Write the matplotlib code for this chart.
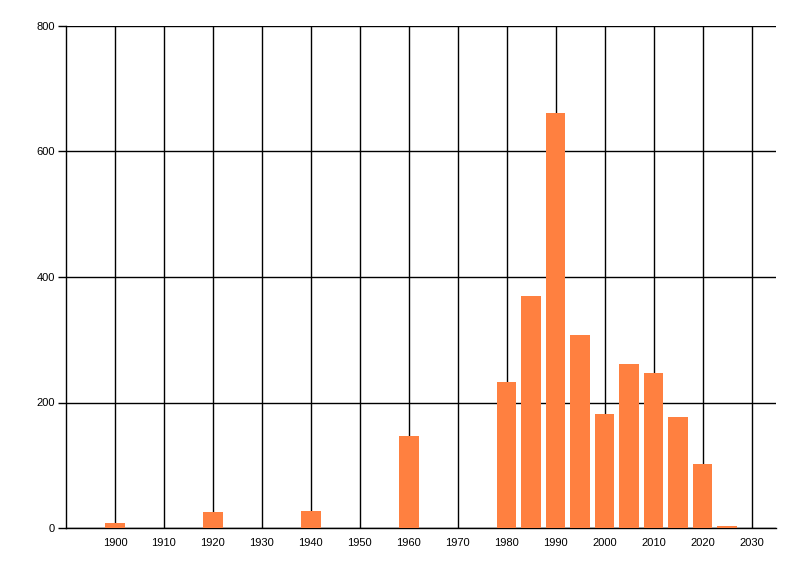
import matplotlib
matplotlib.use("Agg")
import matplotlib.pyplot as plt
import numpy as np

plt.rcParams['font.family'] = ['Liberation Sans', 'DejaVu Sans']

# Data
years = [1900, 1920, 1940, 1960, 1980, 1985, 1990, 1995, 2000, 2005, 2010, 2015, 2020, 2025]
counts = [8, 25, 27, 147, 233, 370, 661, 308, 182, 261, 247, 177, 102, 3]
x_ticks = list(range(1900, 2031, 10))
y_ticks = [0, 200, 400, 600, 800]

fig = plt.figure(figsize=(8, 5.76), dpi=100)
ax = fig.add_axes([66/800, 48/576, 710/800, 502/576])

ax.bar(years, counts, width=4, color='#FF8040', zorder=3)

ax.set_xlim(1890, 2035)
ax.set_ylim(0, 800)
ax.set_xticks(x_ticks)
ax.set_yticks(y_ticks)
ax.set_xticklabels([str(t) for t in x_ticks])
ax.set_yticklabels([str(t) for t in y_ticks])

ax.grid(True, color='black', linewidth=1.0, zorder=0)
ax.set_axisbelow(True)

for s in ['top', 'right']:
    ax.spines[s].set_visible(False)
for s in ['left', 'bottom']:
    ax.spines[s].set_color('black')
    ax.spines[s].set_linewidth(1.0)

ax.tick_params(axis='y', length=6, width=1.0, pad=2, labelsize=8)
ax.tick_params(axis='x', length=0, pad=7, labelsize=8)

fig.savefig("out.png", dpi=100)
